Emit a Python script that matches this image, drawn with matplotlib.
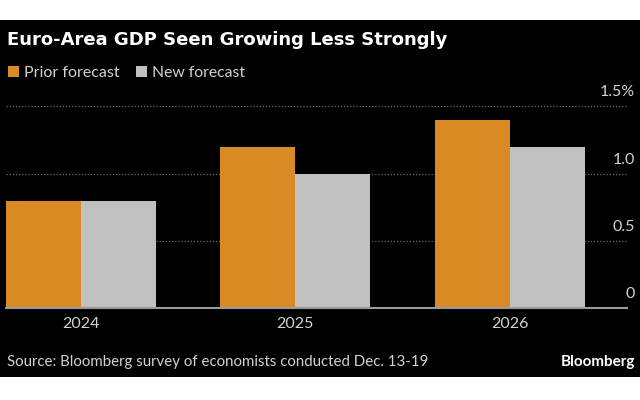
import numpy as np
import matplotlib
matplotlib.use("Agg")
import matplotlib.pyplot as plt
from matplotlib.patches import Rectangle
from matplotlib.transforms import blended_transform_factory

# === DATA ===
years = ["2024", "2025", "2026"]
prior_forecast = [0.8, 1.2, 1.4]
new_forecast = [0.8, 1.0, 1.2]
y_ticks = [0, 0.5, 1.0, 1.5]
y_tick_labels = ["0", "0.5", "1.0", "1.5%"]

# === STYLE ===
ORANGE = "#DA8A25"
GRAY = "#C0C0C0"
BG = "#000000"
TEXT = "#D2D2D2"
FONT = "Lato"

plt.rcParams["font.family"] = [FONT, "DejaVu Sans"]

fig = plt.figure(figsize=(6.4, 4.0), dpi=100)
fig.patch.set_facecolor("white")
# black card, white strips above and below
fig.patches.append(Rectangle((0, 23 / 400), 1, 357 / 400, transform=fig.transFigure,
                             facecolor=BG, edgecolor="none", zorder=-1))

ax = fig.add_axes([6 / 640, 92 / 400, 621 / 640, 215 / 400])
ax.set_facecolor("none")
ax.set_zorder(2)

x = np.arange(len(years))
w = 0.35
ax.bar(x - w / 2, prior_forecast, width=w, color=ORANGE, zorder=3)
ax.bar(x + w / 2, new_forecast, width=w, color=GRAY, zorder=3)

ax.set_xlim(-0.35, 2.548)
ax.set_ylim(0, 1.6)

for s in ["top", "right", "left"]:
    ax.spines[s].set_visible(False)
ax.spines["bottom"].set_color("#9A9A9A")
ax.spines["bottom"].set_linewidth(1.5)
ax.spines["bottom"].set_zorder(4)

ax.set_yticks([])
for yv in y_ticks[1:]:
    ax.axhline(yv, color="#6A6A6A", linestyle=(0, (1, 1.5)), linewidth=0.9, zorder=1)

tr = blended_transform_factory(fig.transFigure, ax.transData)
for yv, lab in zip(y_ticks, y_tick_labels):
    ax.text(635 / 640, yv + 0.075, lab, transform=tr, ha="right", va="baseline",
            color=TEXT, fontsize=11.5)

ax.set_xticks(x)
ax.set_xticklabels(years, color=TEXT, fontsize=11.5)
ax.tick_params(axis="x", length=0, pad=6.5)

# title
fig.text(7 / 640, 1 - 45 / 400, "Euro-Area GDP Seen Growing Less Strongly",
         color="white", fontsize=13, fontweight="bold", va="baseline",
         family="DejaVu Sans")

# legend
fig.patches.append(Rectangle((8 / 640, 1 - 77 / 400), 11 / 640, 11 / 400,
                             transform=fig.transFigure, facecolor=ORANGE, edgecolor="none"))
fig.text(24 / 640, 1 - 77 / 400, "Prior forecast", color=TEXT, fontsize=11.5, va="baseline")
fig.patches.append(Rectangle((136 / 640, 1 - 77 / 400), 11 / 640, 11 / 400,
                             transform=fig.transFigure, facecolor=GRAY, edgecolor="none"))
fig.text(152 / 640, 1 - 77 / 400, "New forecast", color=TEXT, fontsize=11.3, va="baseline")

# source
fig.text(7 / 640, 1 - 366 / 400, "Source: Bloomberg survey of economists conducted Dec. 13-19",
         color=TEXT, fontsize=10.8, va="baseline")
fig.text(635 / 640, 1 - 366 / 400, "Bloomberg", color="white", fontsize=11,
         fontweight="bold", ha="right", va="baseline")

fig.savefig("out.png", dpi=100, facecolor=fig.get_facecolor())
